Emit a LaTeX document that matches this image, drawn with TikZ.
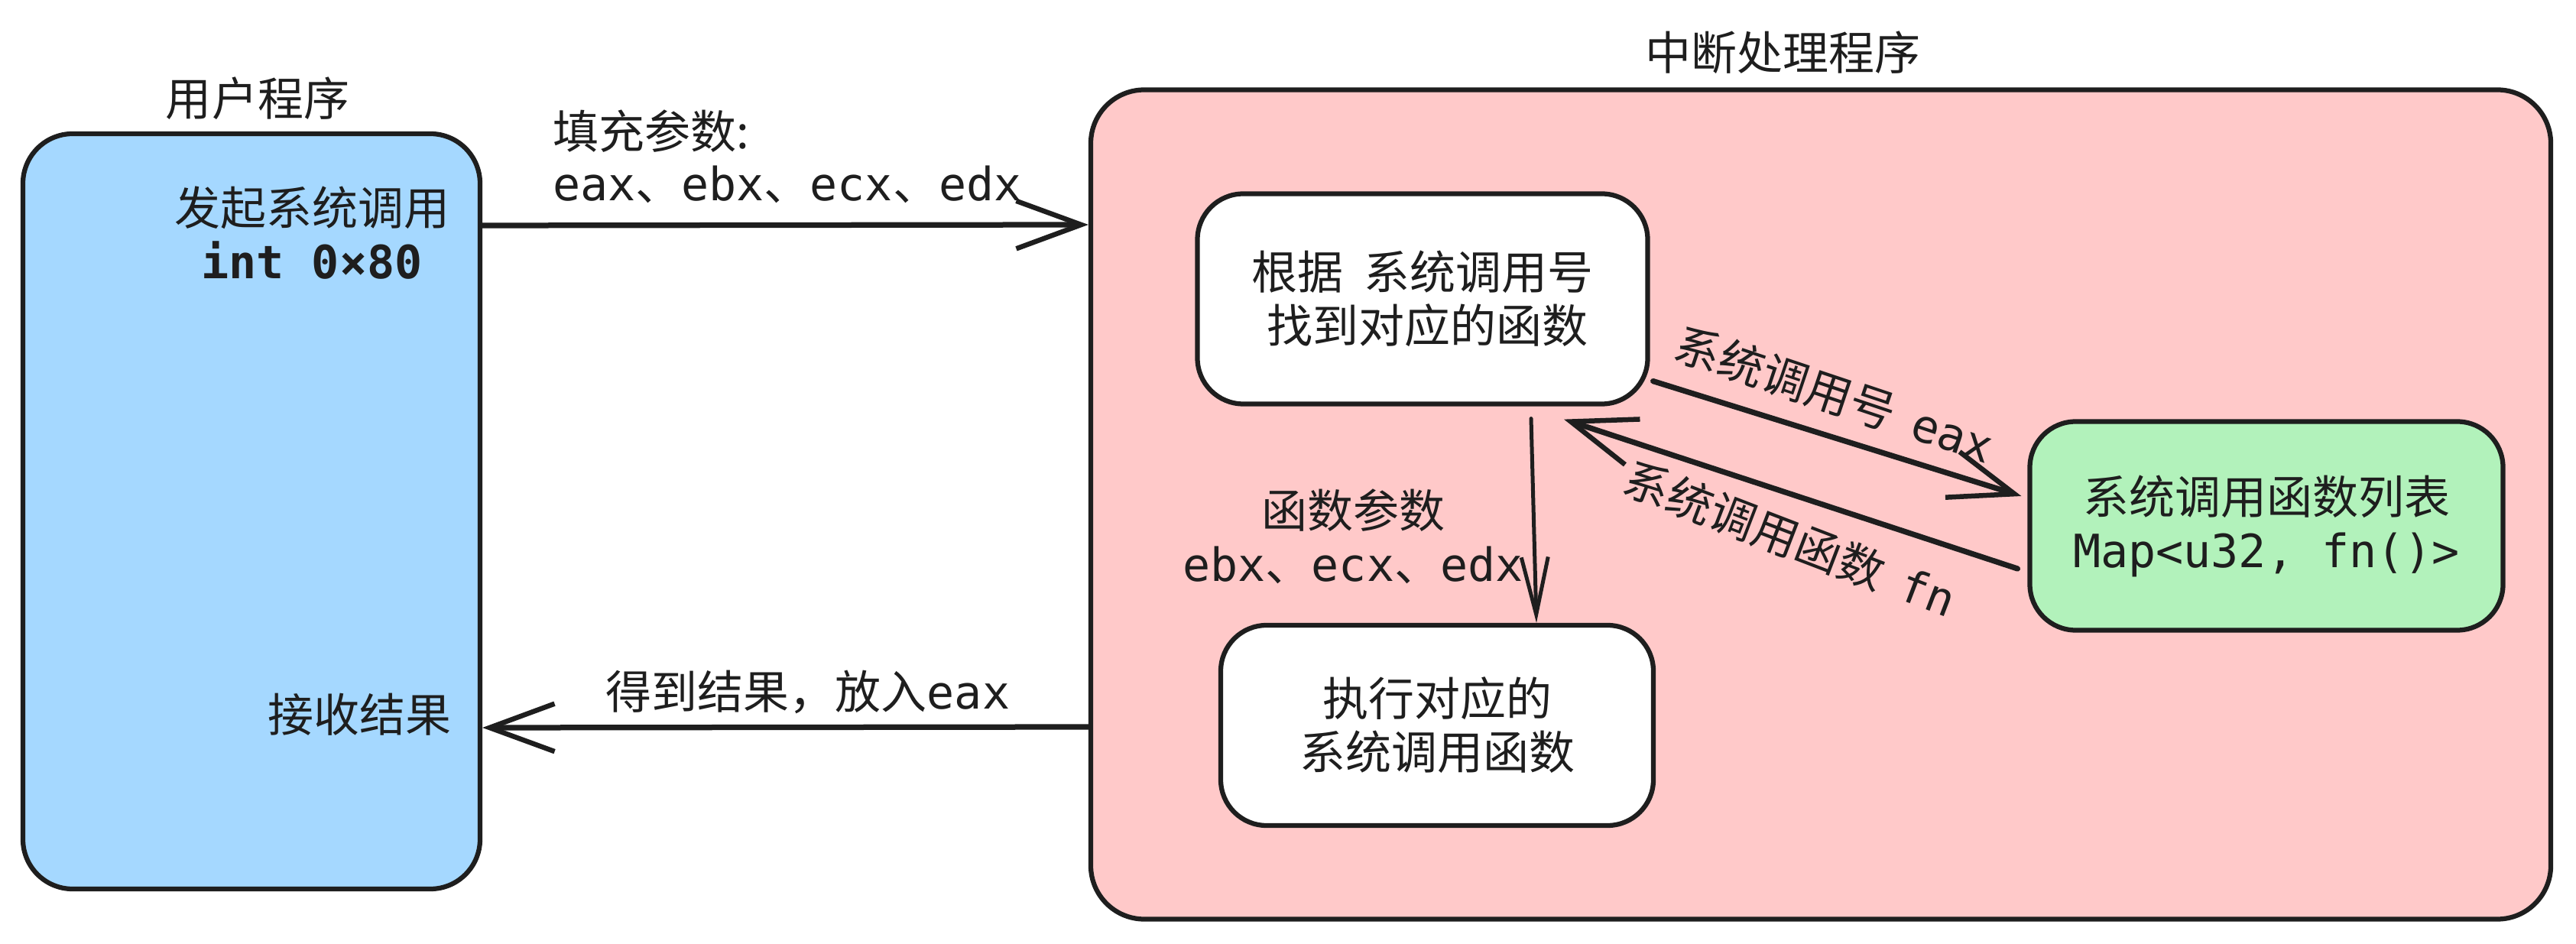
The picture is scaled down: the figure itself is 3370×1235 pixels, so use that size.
\documentclass[tikz,border=0pt]{standalone}
\usepackage{fontspec}
\setmainfont{Noto Sans CJK SC}
\newfontfamily\mono{DejaVu Sans Mono}
\usetikzlibrary{arrows.meta}
\definecolor{ink}{HTML}{1E1E1E}
\definecolor{bluefill}{HTML}{A5D8FF}
\definecolor{pinkfill}{HTML}{FFC9C9}
\definecolor{greenfill}{HTML}{B2F2BB}
\tikzset{
  box/.style={draw=ink, line width=1.25pt, rounded corners=12pt, inner sep=0pt, align=center},
  txt/.style={inner sep=0pt, align=center, text=ink, font=\fontsize{12}{14}\selectfont},
  arr/.style={draw=ink, line width=1.45pt, line cap=round,
    -{Straight Barb[length=17pt,width=12.5pt,line width=1.3pt]}},
  thinarr/.style={draw=ink, line width=1pt, line cap=round,
    -{Straight Barb[length=15pt,width=7pt,line width=1pt]}},
}
\begin{document}
\begin{tikzpicture}[x=0.2pt,y=-0.2pt]
\useasboundingbox (0,0) rectangle (3370,1235);
% containers
\node[box, fill=bluefill, minimum width=119.6pt, minimum height=197.6pt, rounded corners=13pt] (user) at (329,669) {};
\node[box, fill=pinkfill, minimum width=382pt, minimum height=217pt, rounded corners=14pt] (intr) at (2382,660) {};
\node[txt] (userlbl) at (337,129) {用户程序};
\node[txt] (intrlbl) at (2332,69) {中断处理程序};
% user box texts
\node[txt] (sys) at (408,305) {发起系统调用\\{\mono\bfseries int 0×80}};
\node[txt] (recv) at (470,935) {接收结果};
% inner boxes
\node[box, fill=white, minimum width=117.8pt, minimum height=55pt, txt] (find) at (1861,391) {根据\ \ 系统调用号\\\ 找到对应的函数};
\node[box, fill=white, minimum width=113.2pt, minimum height=52.4pt, txt] (exec) at (1880,949) {执行对应的\\系统调用函数};
\node[box, fill=greenfill, minimum width=123.8pt, minimum height=54.6pt, txt] (table) at (2965,688) {系统调用函数列表\\{\mono Map<u32, fn()>}};
% arrows
\draw[arr] ([yshift=74.8pt]user.east) -- ([yshift=73.2pt]intr.west);
\draw[arr] ([yshift=-58.2pt]intr.west) -- ([yshift=-56.6pt]user.east);
\draw[thinarr] ([xshift=28.4pt,yshift=-3.2pt]find.south) -- ([xshift=26pt]exec.north);
\draw[arr] ([xshift=0.8pt,yshift=6.6pt]find.south east) -- ([xshift=-1.6pt,yshift=7.8pt]table.west);
\draw[arr] ([xshift=-2.6pt,yshift=-11.2pt]table.west) -- ([xshift=37pt,yshift=-3.4pt]find.south);
% labels
\node[txt, anchor=west] (fill1) at (722,172) {填充参数:};
\node[txt, anchor=west] (fill2) at (722,241) {{\mono eax}、{\mono ebx}、{\mono ecx}、{\mono edx}};
\node[txt] (res) at (1057,905) {得到结果，放入{\mono eax}};
\node[txt] (args) at (1770,702) {函数参数\\{\mono ebx}、{\mono ecx}、{\mono edx}};
\node[txt, rotate=-18.5] (lbl1) at (2400,516) {系统调用号\ \ {\mono eax}};
\node[txt, rotate=-21] (lbl2) at (2342,705) {系统调用函数\ \ {\mono fn}};
\end{tikzpicture}
\end{document}
